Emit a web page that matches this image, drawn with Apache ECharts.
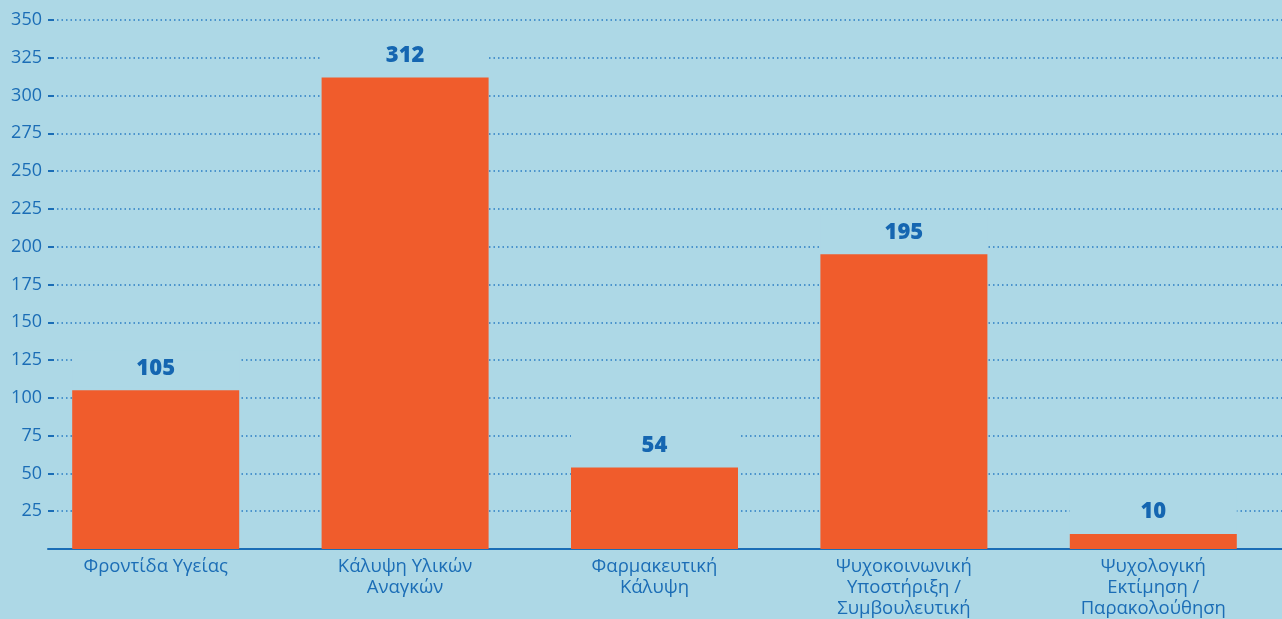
<!DOCTYPE html>
<html>
<head>
<meta charset="utf-8">
<script src="https://cdn.jsdelivr.net/npm/echarts@6/dist/echarts.min.js"></script>
<style>
html,body{margin:0;padding:0;background:#add8e6;}
#chart{width:1282px;height:619px;}
</style>
</head>
<body>
<div id="chart"></div>
<script>
const categories = [
  "Φροντίδα Υγείας",
  "Κάλυψη Υλικών\nΑναγκών",
  "Φαρμακευτική\nΚάλυψη",
  "Ψυχοκοινωνική\nΥποστήριξη /\nΣυμβουλευτική",
  "Ψυχολογική\nΕκτίμηση /\nΠαρακολούθηση"
];
const values = [105, 312, 54, 195, 10];
const yMin = 0, yMax = 350, yStep = 25;

const BG = '#add8e6';
const BLUE = '#1b6db6';
const chart = echarts.init(document.getElementById('chart'));
chart.setOption({
  backgroundColor: BG,
  animation: false,
  grid: [
    {left: 31, right: 4, top: 20, bottom: 70},
    {left: 48, right: 0, top: 20, bottom: 70}
  ],
  xAxis: [
    {
      type: 'category', gridIndex: 0, data: categories,
      axisLine: {show: false}, axisTick: {show: false},
      axisLabel: {color: BLUE, fontSize: 18.5, fontFamily: 'Open Sans', lineHeight: 21, margin: 7, interval: 0}
    },
    {
      type: 'category', gridIndex: 1, data: categories,
      axisLine: {show: true, lineStyle: {color: BLUE, width: 2}},
      axisTick: {show: false}, axisLabel: {show: false}
    }
  ],
  yAxis: [
    {type: 'value', gridIndex: 0, min: yMin, max: yMax, interval: yStep, show: false, splitLine: {show: false}},
    {
      type: 'value', gridIndex: 1, min: yMin, max: yMax, interval: yStep,
      axisLine: {show: false},
      axisTick: {show: true, inside: true, length: 6, lineStyle: {color: BLUE, width: 2}},
      axisLabel: {color: BLUE, fontSize: 18, fontFamily: 'Open Sans', margin: 6,
        formatter: v => v === 0 ? '' : String(v)},
      splitLine: {show: true, lineStyle: {color: '#2a7cc4', type: [1.5, 3], width: 1.5}}
    }
  ],
  series: [{
    type: 'bar', xAxisIndex: 0, yAxisIndex: 0,
    data: values, barWidth: 167,
    itemStyle: {color: '#f05c2c'},
    z: 5,
    label: {
      show: true, position: 'top', distance: 4,
      color: '#1566b1', fontSize: 22, fontWeight: 900, fontFamily: 'Noto Sans',
      backgroundColor: BG, width: 167, align: 'center', lineHeight: 28, padding: [4, 0, 4, 0]
    }
  }]
});
</script>
</body>
</html>
